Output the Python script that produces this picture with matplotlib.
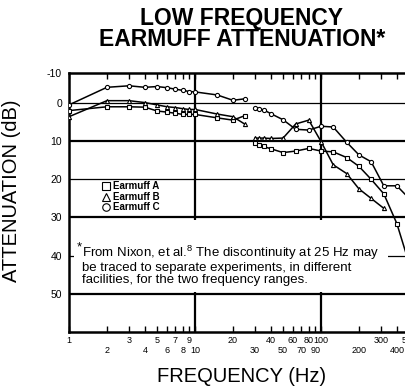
# %%
import matplotlib
matplotlib.use('Agg')
import matplotlib.pyplot as plt
from matplotlib.patches import Rectangle

plt.rcParams['font.family'] = ['Liberation Sans', 'DejaVu Sans']
plt.rcParams['mathtext.fontset'] = 'custom'
plt.rcParams['mathtext.rm'] = 'Liberation Sans'

# %%
# Datos (atenuacion en dB, positivo = mas atenuacion)
# Rango bajo: 1 - 25 Hz
frec_baja = [1, 2, 3, 4, 5, 6, 7, 8, 9, 10, 15, 20, 25]
muff_a_baja = [2.0, 1.0, 1.0, 1.1, 2.1, 2.4, 2.7, 3.0, 3.0, 3.0, 3.9, 4.5, 3.3]
muff_b_baja = [3.6, -0.6, -0.6, -0.1, 0.5, 1.0, 1.2, 1.5, 1.7, 1.7, 2.9, 3.6, 5.6]
muff_c_baja = [0.5, -4.1, -4.5, -4.1, -4.3, -4.0, -3.6, -3.3, -3.0, -2.9, -2.1, -0.7, -1.1]

# Rango alto: 30 - 500 Hz (otro experimento)
frec_alta = [30, 32.5, 35, 40, 50, 63, 80, 100, 125, 160, 200, 250, 315, 400, 500]
muff_a_alta = [10.5, 11.0, 11.4, 12.0, 13.0, 12.6, 11.9, 12.6, 12.8, 14.3, 16.6, 20.0, 23.8, 31.6, 42.0]
muff_b_alta = [9.2, 9.2, 9.2, 9.3, 9.2, 5.5, 4.5, 10.1, 16.2, 18.5, 22.5, 25.0, 27.6]
muff_c_alta = [1.4, 1.6, 1.8, 2.8, 4.4, 6.9, 7.1, 6.1, 6.3, 10.3, 13.6, 15.4, 21.7, 21.7, 25.0]

etiquetas = ['Earmuff A', 'Earmuff B', 'Earmuff C']

# Etiquetas del eje x en dos filas (escalonadas)
ticks_arriba = [1, 3, 5, 7, 9, 20, 40, 60, 80, 100, 300, 500]
ticks_abajo = [2, 4, 6, 8, 10, 30, 50, 70, 90, 200, 400]

y_ticks = [0, 10, 20, 30, 40, 50]
y_top = -7.85  # el borde superior esta rotulado "-10"

nota = ("From Nixon, et al.$^{8}$ The discontinuity at 25 Hz may\n"
        "be traced to separate experiments, in different\n"
        "facilities, for the two frequency ranges.")

# %%
fig = plt.figure(figsize=(4.05, 3.88), dpi=100)
ax = fig.add_axes([69 / 405, 56 / 388, 378 / 405, 259 / 388])
ax.set_xscale('log')
ax.set_xlim(1, 1000)
ax.set_ylim(60, y_top)

# lineas de cuadricula (gruesas y delgadas)
for y in y_ticks:
    lw = 1.6 if y in (10, 30, 50) else 0.9
    ax.axhline(y, color='black', lw=lw, zorder=1)
for x in (10, 100):
    ax.axvline(x, color='black', lw=1.6, zorder=1)

estilo = dict(color='black', lw=1.1, mfc='white', mec='black', mew=0.8, ms=3.0, zorder=3)
marcadores = ['s', '^', 'o']
bajas = [muff_a_baja, muff_b_baja, muff_c_baja]
altas = [muff_a_alta, muff_b_alta, muff_c_alta]
handles = []
for m, lab, vb, va in zip(marcadores, etiquetas, bajas, altas):
    h, = ax.plot(frec_baja, vb, marker=m, label=lab, **estilo)
    ax.plot(frec_alta[:len(va)], va, marker=m, **estilo)
    handles.append(h)

leg = ax.legend(handles=handles, loc='upper left', bbox_to_anchor=(0.085, 0.6),
                frameon=False, handlelength=0, handletextpad=0.7,
                labelspacing=0.05, borderpad=0, markerscale=1.8,
                prop={'size': 7, 'weight': 'bold'})

# caja blanca de la nota
ax.add_patch(Rectangle((1.1, 30.6), 340 - 1.1, 18.8, facecolor='white',
                       edgecolor='none', zorder=2.5))
ax.text(1.15, 37.8, '*', fontsize=9.5, ha='left', va='center', zorder=4)
ax.text(1.26, 42.3, nota, fontsize=9.5, ha='left', va='center',
        linespacing=1.0, zorder=4)

# ejes y ticks
for s in ['left', 'bottom', 'top']:
    ax.spines[s].set_linewidth(1.8)
ax.spines['right'].set_visible(False)

ax.set_xticks(ticks_arriba, [str(t) for t in ticks_arriba])
ax.set_xticks(ticks_abajo, [str(t) for t in ticks_abajo], minor=True)
ax.tick_params(axis='x', which='both', direction='in', length=4, width=1,
               top=True, labelsize=6.5)
ax.tick_params(axis='x', which='major', pad=3)
ax.tick_params(axis='x', which='minor', pad=10)

ax.set_yticks([y_top] + y_ticks, ['-10'] + [str(v) for v in y_ticks])
ax.tick_params(axis='y', length=0, pad=5, labelsize=7.5)

# titulo y etiquetas de ejes
fig.text(242 / 405, 1 - 7 / 388, 'LOW FREQUENCY\nEARMUFF ATTENUATION*',
         ha='center', va='top', fontsize=16.5, weight='bold', linespacing=0.9)
fig.text(242 / 405, 1 - 377 / 388, 'FREQUENCY (Hz)', ha='center', va='center',
         fontsize=14.5)
fig.text(12 / 405, 1 - 191 / 388, 'ATTENUATION (dB)', rotation=90,
         ha='center', va='center', fontsize=14.5)

plt.savefig('out.png', dpi=100)
